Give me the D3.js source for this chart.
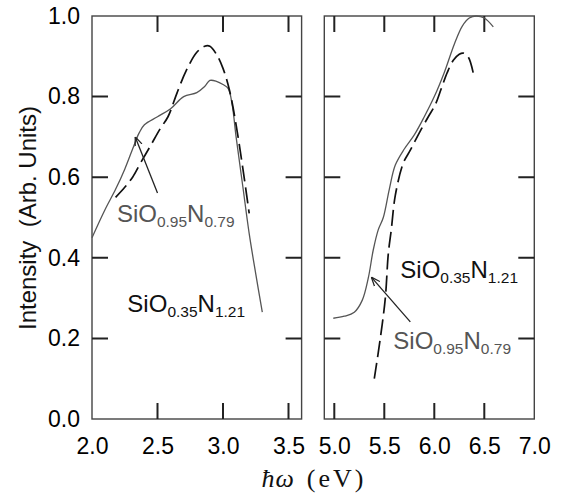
<!DOCTYPE html>
<html lang="en">
<head>
    <meta charset="UTF-8">
    <title>Intensity vs photon energy</title>
    <script src="https://cdn.jsdelivr.net/npm/d3@7"></script>
    <style>
        body { margin: 0; background: #fff; }
        .tick text { font-family: "Liberation Sans", Arial, sans-serif; font-size: 23px; fill: #000; }
        .label { font-family: "Liberation Sans", Arial, sans-serif; font-size: 24px; }
    </style>
</head>
<body>
    <svg width="561" height="496"></svg>
    <script>
        // solid curve = SiO0.95N0.79, dashed curve = SiO0.35N1.21
        const leftSolidX = [2.00, 2.10, 2.18, 2.25, 2.31, 2.36, 2.40, 2.50, 2.60, 2.70, 2.80, 2.86, 2.90, 2.95, 3.00, 3.04, 3.07, 3.10, 3.15, 3.20, 3.25, 3.30];
        const leftSolidY = [0.45, 0.52, 0.57, 0.62, 0.67, 0.71, 0.73, 0.75, 0.77, 0.80, 0.81, 0.825, 0.84, 0.838, 0.83, 0.82, 0.78, 0.70, 0.58, 0.46, 0.36, 0.265];

        const leftDashX = [2.18, 2.25, 2.31, 2.37, 2.45, 2.52, 2.58, 2.65, 2.72, 2.80, 2.86, 2.90, 2.95, 3.00, 3.05, 3.10, 3.15, 3.20];
        const leftDashY = [0.55, 0.575, 0.60, 0.635, 0.68, 0.72, 0.75, 0.81, 0.865, 0.91, 0.925, 0.925, 0.905, 0.87, 0.815, 0.73, 0.625, 0.51];

        const rightSolidX = [4.99, 5.10, 5.20, 5.28, 5.34, 5.39, 5.44, 5.49, 5.55, 5.61, 5.70, 5.80, 5.90, 6.00, 6.10, 6.20, 6.28, 6.35, 6.42, 6.50, 6.59];
        const rightSolidY = [0.25, 0.255, 0.265, 0.295, 0.35, 0.42, 0.47, 0.50, 0.57, 0.63, 0.67, 0.705, 0.75, 0.80, 0.86, 0.93, 0.975, 0.995, 1.0, 0.995, 0.973];

        const rightDashX = [5.40, 5.46, 5.51, 5.54, 5.57, 5.61, 5.69, 5.76, 5.85, 5.94, 6.01, 6.07, 6.13, 6.19, 6.25, 6.29, 6.34, 6.39];
        const rightDashY = [0.10, 0.20, 0.30, 0.41, 0.47, 0.555, 0.635, 0.667, 0.71, 0.75, 0.78, 0.82, 0.86, 0.89, 0.905, 0.908, 0.898, 0.858];

        const yTicks = [0.0, 0.2, 0.4, 0.6, 0.8, 1.0];
        const leftXTicks = [2.0, 2.5, 3.0, 3.5];
        const rightXTicks = [5.0, 5.5, 6.0, 6.5, 7.0];

        const svg = d3.select("svg");
        const plotTop = 16, plotBottom = 419;
        const tickLen = 16;
        const frameColor = "#444";

        const y = d3.scaleLinear().domain([0, 1]).range([plotBottom, plotTop]);
        const xLeft = d3.scaleLinear().domain([2.0, 3.6]).range([92, 301.6]);
        const xRight = d3.scaleLinear().domain([4.9, 7.0]).range([324.3, 534.3]);

        const fmt = d3.format(".1f");

        svg.append("defs").append("marker")
            .attr("id", "arrow")
            .attr("viewBox", "0 0 10 10")
            .attr("refX", 10).attr("refY", 5)
            .attr("markerWidth", 9).attr("markerHeight", 9)
            .attr("markerUnits", "userSpaceOnUse")
            .attr("orient", "auto")
            .append("path")
            .attr("d", "M0,1 L10,5 L0,9")
            .attr("fill", "none")
            .attr("stroke", "#222")
            .attr("stroke-width", 1.4);

        // short inward tick marks, drawn as one path per panel
        function tickPath(x, xTicks) {
            const [x0, x1] = x.range();
            const p = d3.path();
            xTicks.filter(t => x(t) > x0 + 1 && x(t) < x1 - 1).forEach(t => {
                p.moveTo(x(t), plotBottom); p.lineTo(x(t), plotBottom - tickLen);
                p.moveTo(x(t), plotTop); p.lineTo(x(t), plotTop + tickLen);
            });
            yTicks.filter(t => t > 0 && t < 1).forEach(t => {
                p.moveTo(x0, y(t)); p.lineTo(x0 + tickLen, y(t));
                p.moveTo(x1, y(t)); p.lineTo(x1 - tickLen, y(t));
            });
            return p.toString();
        }

        function drawPanel(x, xTicks, showYLabels) {
            const g = svg.append("g");
            const [x0, x1] = x.range();

            const bAxis = g.append("g").attr("transform", `translate(0,${plotBottom})`)
                .call(d3.axisBottom(x).tickValues(xTicks).tickFormat(fmt).tickSize(0).tickPadding(19));
            bAxis.selectAll(".tick line").remove();
            bAxis.select(".domain").remove();
            if (showYLabels) {
                const lAxis = g.append("g").attr("transform", `translate(${x0},0)`)
                    .call(d3.axisLeft(y).tickValues(yTicks).tickFormat(fmt).tickSize(0).tickPadding(12));
                lAxis.selectAll(".tick line").remove();
                lAxis.select(".domain").remove();
            }

            g.append("rect")
                .attr("x", x0).attr("y", plotTop)
                .attr("width", x1 - x0).attr("height", plotBottom - plotTop)
                .attr("fill", "none")
                .attr("stroke", frameColor)
                .attr("stroke-width", 1.4);

            g.append("path")
                .attr("d", tickPath(x, xTicks))
                .attr("fill", "none")
                .attr("stroke", "#222")
                .attr("stroke-width", 2);
            return g;
        }

        function drawCurve(g, x, xs, ys, dashed) {
            const pts = xs.map((v, i) => [v, ys[i]]);
            const line = d3.line().x(d => x(d[0])).y(d => y(d[1])).curve(d3.curveCatmullRom.alpha(0.5));
            g.append("path")
                .attr("d", line(pts))
                .attr("fill", "none")
                .attr("stroke", dashed ? "#111" : "#555")
                .attr("stroke-width", dashed ? 1.7 : 1.3)
                .attr("stroke-dasharray", dashed ? "16,6" : null);
        }

        function drawLabel(x, xv, yv, main1, sub1, main2, sub2, color) {
            const t = svg.append("text").attr("class", "label")
                .attr("x", x(xv)).attr("y", y(yv)).attr("fill", color);
            t.append("tspan").text(main1);
            t.append("tspan").attr("dy", 5).attr("font-size", "15.5px").text(sub1);
            t.append("tspan").attr("dy", -5).text(main2);
            t.append("tspan").attr("dy", 5).attr("font-size", "15.5px").text(sub2);
        }

        function drawArrow(x, from, to) {
            svg.append("line")
                .attr("x1", x(from[0])).attr("y1", y(from[1]))
                .attr("x2", x(to[0])).attr("y2", y(to[1]))
                .attr("stroke", "#222").attr("stroke-width", 1.3)
                .attr("marker-end", "url(#arrow)");
        }

        const gl = drawPanel(xLeft, leftXTicks, true);
        const gr = drawPanel(xRight, rightXTicks, false);

        drawCurve(gl, xLeft, leftSolidX, leftSolidY, false);
        drawCurve(gl, xLeft, leftDashX, leftDashY, true);
        drawCurve(gr, xRight, rightSolidX, rightSolidY, false);
        drawCurve(gr, xRight, rightDashX, rightDashY, true);

        drawLabel(xLeft, 2.19, 0.489, "SiO", "0.95", "N", "0.79", "#555");
        drawLabel(xLeft, 2.27, 0.266, "SiO", "0.35", "N", "1.21", "#111");
        drawLabel(xRight, 5.66, 0.35, "SiO", "0.35", "N", "1.21", "#111");
        drawLabel(xRight, 5.59, 0.174, "SiO", "0.95", "N", "0.79", "#555");

        drawArrow(xLeft, [2.50, 0.561], [2.33, 0.70]);
        drawArrow(xRight, [5.76, 0.241], [5.37, 0.352]);

        svg.append("text")
            .attr("transform", "translate(36,218) rotate(-90)")
            .attr("text-anchor", "middle")
            .attr("font-family", "Liberation Sans, Arial, sans-serif")
            .attr("font-size", "24px")
            .attr("fill", "#111")
            .attr("xml:space", "preserve")
            .text("Intensity  (Arb. Units)");

        const xt = svg.append("text")
            .attr("x", 314).attr("y", 487)
            .attr("text-anchor", "middle")
            .attr("font-family", "Liberation Serif, Times New Roman, serif")
            .attr("font-size", "26px")
            .attr("fill", "#111");
        xt.append("tspan").attr("font-style", "italic").attr("letter-spacing", "1px").text("ħω");
        xt.append("tspan").attr("dx", 12).attr("letter-spacing", "3px").text("(eV)");
    </script>
</body>
</html>
